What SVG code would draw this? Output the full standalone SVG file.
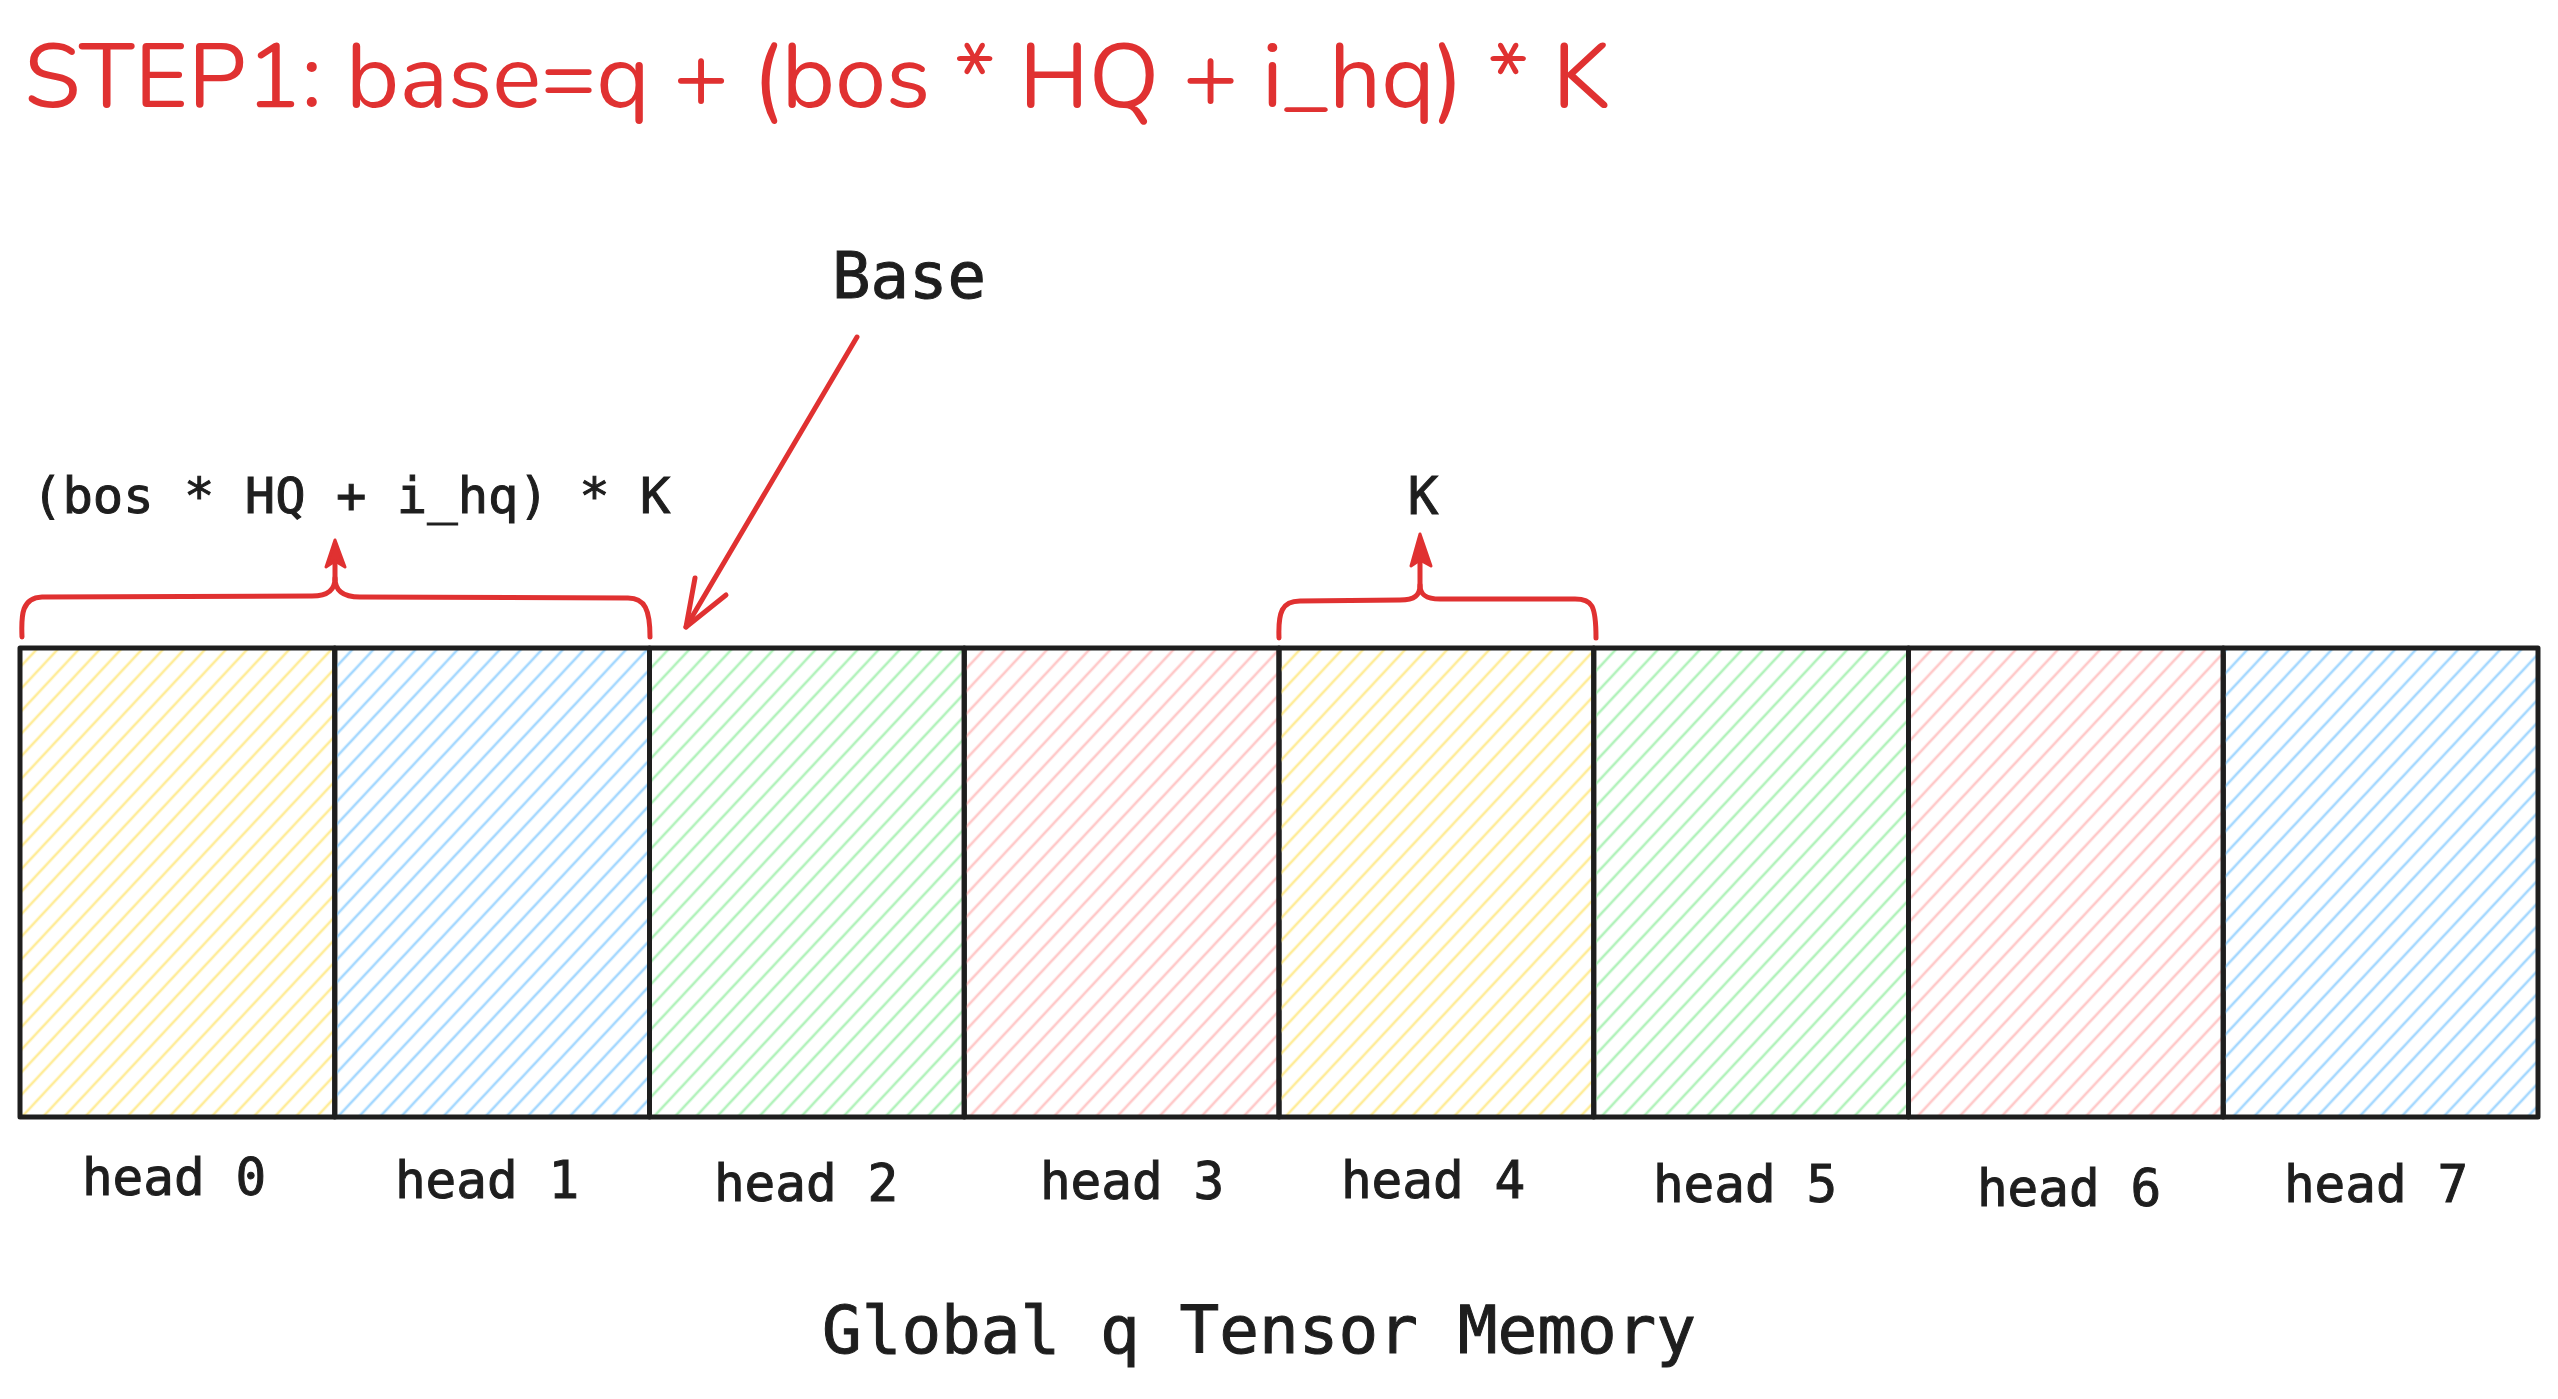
<svg xmlns="http://www.w3.org/2000/svg" width="2558" height="1399" viewBox="0 0 2558 1399">
<style>
.title{font-family:"Nunito","Open Sans","Noto Sans",sans-serif;font-size:90px;fill:#e03131}
.mono{font-family:"DejaVu Sans Mono","Liberation Mono",monospace;fill:#1e1e1e;stroke:#1e1e1e;stroke-width:1}
.lbl{font-size:51px;text-anchor:middle}
.box{stroke:#1e1e1e;stroke-width:5;stroke-linejoin:round}
.red{fill:none;stroke:#e03131;stroke-width:5;stroke-linecap:round;stroke-linejoin:round}
.redfill{fill:#e03131;stroke:#e03131;stroke-width:3;stroke-linejoin:round}
</style>
<defs>
<pattern id="hy" patternUnits="userSpaceOnUse" width="15.4" height="20" patternTransform="rotate(43)"><line x1="7.7" y1="0" x2="7.7" y2="20" stroke="#ffec99" stroke-width="2.6"/></pattern>
<pattern id="hb" patternUnits="userSpaceOnUse" width="15.4" height="20" patternTransform="rotate(43)"><line x1="7.7" y1="0" x2="7.7" y2="20" stroke="#a5d8ff" stroke-width="2.6"/></pattern>
<pattern id="hg" patternUnits="userSpaceOnUse" width="15.4" height="20" patternTransform="rotate(43)"><line x1="7.7" y1="0" x2="7.7" y2="20" stroke="#b2f2bb" stroke-width="2.6"/></pattern>
<pattern id="hr" patternUnits="userSpaceOnUse" width="15.4" height="20" patternTransform="rotate(43)"><line x1="7.7" y1="0" x2="7.7" y2="20" stroke="#ffc9c9" stroke-width="2.6"/></pattern>
</defs>
<rect width="2558" height="1399" fill="#ffffff"/>
<text id="title" class="title" x="24" y="107" textLength="1586" lengthAdjust="spacingAndGlyphs">STEP1: base=q + (bos * HQ + i_hq) * K</text>

<g id="head0"><rect class="box" x="20" y="648" width="314.75" height="469" fill="url(#hy)"/><text class="mono lbl" x="174" y="1195">head 0</text></g>
<g id="head1"><rect class="box" x="334.75" y="648" width="314.75" height="469" fill="url(#hb)"/><text class="mono lbl" x="487" y="1198">head 1</text></g>
<g id="head2"><rect class="box" x="649.5" y="648" width="314.75" height="469" fill="url(#hg)"/><text class="mono lbl" x="806" y="1201">head 2</text></g>
<g id="head3"><rect class="box" x="964.25" y="648" width="314.75" height="469" fill="url(#hr)"/><text class="mono lbl" x="1132" y="1199">head 3</text></g>
<g id="head4"><rect class="box" x="1279" y="648" width="314.75" height="469" fill="url(#hy)"/><text class="mono lbl" x="1433" y="1198">head 4</text></g>
<g id="head5"><rect class="box" x="1593.75" y="648" width="314.75" height="469" fill="url(#hg)"/><text class="mono lbl" x="1745" y="1202">head 5</text></g>
<g id="head6"><rect class="box" x="1908.5" y="648" width="314.75" height="469" fill="url(#hr)"/><text class="mono lbl" x="2069" y="1206">head 6</text></g>
<g id="head7"><rect class="box" x="2223.25" y="648" width="314.75" height="469" fill="url(#hb)"/><text class="mono lbl" x="2376" y="1202">head 7</text></g>

<g id="offset-label"><text class="mono" x="32" y="513" font-size="50.5">(bos * HQ + i_hq) * K</text></g>
<g id="k-label"><text class="mono" x="1423" y="514" font-size="51" text-anchor="middle">K</text></g>
<g id="base-label"><text class="mono" x="832" y="298" font-size="64">Base</text></g>
<g id="caption"><text class="mono" x="1259" y="1353" font-size="66" text-anchor="middle">Global q Tensor Memory</text></g>

<g id="connectors">
<path class="red" d="M22,637 C21,614 22,598 42,597 L312,596 C328,596 335,590 335,578 C335,590 342,597 360,597 L628,598 C645,598 650,610 650,637"/>
<path class="red" d="M335,580 L335,545"/>
<path class="redfill" d="M326,567 L335,540 L345,567 L335,561 Z"/>
<path class="red" d="M1279,638 C1278,612 1282,601 1300,601 L1400,600 C1415,600 1420,595 1420,585 C1420,595 1426,599 1440,599 L1575,599 C1592,599 1596,605 1596,638"/>
<path class="red" d="M1420,587 L1420,540"/>
<path class="redfill" d="M1411,566 L1420,534 L1431,566 L1420,560 Z"/>
<path class="red" d="M857,337 Q772,480 686,627"/>
<path class="red" d="M695,578 L686,627 L726,595"/>
</g>
</svg>
